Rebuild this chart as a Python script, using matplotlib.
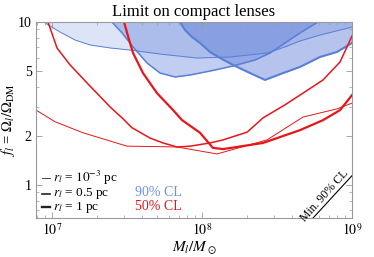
import matplotlib
matplotlib.use("Agg")
import matplotlib.pyplot as plt
from matplotlib.ticker import LogLocator, NullFormatter, FixedLocator, FixedFormatter

plt.rcParams['font.family'] = ['Liberation Serif', 'DejaVu Serif']
plt.rcParams['mathtext.fontset'] = 'stix'

# 90% CL exclusion boundaries (blue), regions above the curves are excluded
b_thin_M = [8.9e6, 9.26e6, 1.13e7, 1.42e7, 1.79e7, 2.44e7, 3.31e7, 5.25e7, 9.26e7, 1.54e8, 2.71e8, 3.57e8, 4.5e8, 6.12e8, 1.0e9]
b_thin_f = [10.0, 9.7, 8.68, 7.76, 7.23, 6.93, 6.73, 6.36, 6.01, 6.10, 6.45, 7.03, 7.65, 8.32, 9.31]

b_med_M = [2.51e7, 2.93e7, 3.47e7, 4.3e7, 5.25e7, 6.61e7, 8.32e7, 1.13e8, 1.61e8, 2.26e8, 2.84e8, 3.57e8, 4.5e8, 5.93e8]
b_med_f = [10.0, 8.57, 7.03, 5.6, 4.86, 4.6, 4.73, 5.0, 5.37, 5.85, 6.45, 7.43, 8.57, 10.0]

b_thick_M = [7.13e7, 7.7e7, 8.58e7, 9.7e7, 1.13e8, 1.32e8, 1.61e8, 2.09e8, 2.63e8, 3.47e8, 4.5e8, 6.12e8, 7.94e8, 1.0e9]
b_thick_f = [10.0, 8.93, 8.09, 7.43, 6.55, 6.01, 5.45, 4.86, 4.41, 4.86, 5.3, 6.1, 6.55, 7.43]

# 50% CL curves (red)
r_thin_M = [7.82e6, 1.05e7, 1.61e7, 3.16e7, 5.0e7, 6.81e7, 1.26e8, 2.71e8, 4.71e8, 7.94e8, 1.0e9]
r_thin_f = [2.88, 2.44, 2.09, 1.73, 1.72, 1.71, 1.55, 1.89, 2.61, 2.93, 3.18]

r_med_M = [9.4e6, 1.08e7, 1.32e7, 1.71e7, 2.44e7, 2.97e7, 3.4e7, 4.5e7, 5.5e7, 6.81e7, 8.32e7, 1.13e8, 1.38e8, 2.0e8, 2.55e8, 3.57e8, 4.71e8, 6.41e8, 8.32e8, 1.0e9]
r_med_f = [10.0, 6.92, 5.45, 4.23, 3.01, 2.55, 2.25, 1.94, 1.81, 1.71, 1.73, 1.81, 1.89, 2.11, 2.58, 3.1, 3.66, 4.41, 5.69, 8.2]

r_thick_M = [3.02e7, 3.31e7, 3.47e7, 4.04e7, 5.01e7, 6.41e7, 7.36e7, 9.7e7, 1.18e8, 1.38e8, 2.55e8, 4.5e8, 6.41e8, 8.32e8, 1.0e9]
r_thick_f = [10.0, 7.43, 6.45, 4.86, 3.66, 2.88, 2.5, 2.09, 1.69, 1.66, 1.81, 2.17, 2.5, 2.88, 3.56]

# Minimum 90% CL line
min_M = [5.0e8, 1.0e9]
min_f = [0.57, 1.14]

legend_labels = [r'$r_{l}$ = $10^{-3}$ pc', r'$r_{l}$ = 0.5 pc', r'$r_{l}$ = 1 pc']
xtick_vals = [1e7, 1e8, 1e9]
xtick_labels = [r'$10^{7}$', r'$10^{8}$', r'$10^{9}$']
ytick_vals = [1, 2, 5, 10]
ytick_labels = ['1', '2', '5', '10']

blue_fill = '#5b7bd9'
blue_line = '#5a7fd6'
red = '#e8161b'

fig = plt.figure(figsize=(3.74, 2.57), dpi=100)
ax = fig.add_axes([36/374, 1 - 218/257, 316/374, 196/257])
ax.set_xscale('log')
ax.set_yscale('log')
ax.set_xlim(7.82e6, 1.0e9)
ax.set_ylim(0.627, 10.0)

ax.fill_between(b_thin_M, b_thin_f, 20, color=blue_fill, alpha=0.2, lw=0)
ax.fill_between(b_med_M, b_med_f, 20, color=blue_fill, alpha=0.37, lw=0)
ax.fill_between(b_thick_M, b_thick_f, 20, color=blue_fill, alpha=0.45, lw=0)
ax.plot(b_thin_M, b_thin_f, color=blue_line, lw=0.7)
ax.plot(b_med_M, b_med_f, color=blue_line, lw=1.1)
ax.plot(b_thick_M, b_thick_f, color=blue_line, lw=1.5)

ax.plot(r_thin_M, r_thin_f, color=red, lw=0.7)
ax.plot(r_med_M, r_med_f, color=red, lw=1.1)
ax.plot(r_thick_M, r_thick_f, color=red, lw=1.6)

ax.plot(min_M, min_f, color='black', lw=0.8)
ax.text(0.912, 0.112, 'Min. 90% CL', transform=ax.transAxes, rotation=48,
        ha='center', va='center', fontsize=8.5)

# legend-like annotations
ys = [0.203, 0.124, 0.055]
lws = [0.6, 1.2, 1.7]
for yv, lw, lab in zip(ys, lws, legend_labels):
    ax.plot([0.019, 0.045], [yv, yv], transform=ax.transAxes, color='#222222', lw=lw)
    ax.text(0.054, yv, lab, transform=ax.transAxes, ha='left', va='center', fontsize=9.5)
ax.text(0.313, 0.128, '90% CL', transform=ax.transAxes, ha='left', va='center',
        fontsize=10, color='#6f8fdf')
ax.text(0.313, 0.061, '50% CL', transform=ax.transAxes, ha='left', va='center',
        fontsize=10, color=red)

ax.xaxis.set_major_locator(FixedLocator(xtick_vals))
ax.xaxis.set_major_formatter(FixedFormatter(xtick_labels))
ax.xaxis.set_minor_locator(LogLocator(base=10, subs=range(2, 10)))
ax.xaxis.set_minor_formatter(NullFormatter())
ax.yaxis.set_major_locator(FixedLocator(ytick_vals))
ax.yaxis.set_major_formatter(FixedFormatter(ytick_labels))
ax.yaxis.set_minor_locator(FixedLocator([0.7, 0.8, 0.9, 3, 4, 6, 7, 8, 9]))
ax.yaxis.set_minor_formatter(NullFormatter())

for s in ax.spines.values():
    s.set_color('#999999')
    s.set_linewidth(0.8)
ax.tick_params(which='both', direction='in', top=True, right=True, color='#999999',
               labelsize=10, pad=3)
ax.tick_params(which='major', length=4, width=0.6)
ax.tick_params(which='minor', length=2, width=0.5)

ax.set_title('Limit on compact lenses', fontsize=12, pad=4)
ax.set_xlabel(r'$M_l/M_\odot$', fontsize=11, labelpad=1)
ax.set_ylabel(r'$f_l$ = $\Omega_l/\Omega_{\rm DM}$', fontsize=10.5, labelpad=1)

fig.savefig('out.png', dpi=100)
